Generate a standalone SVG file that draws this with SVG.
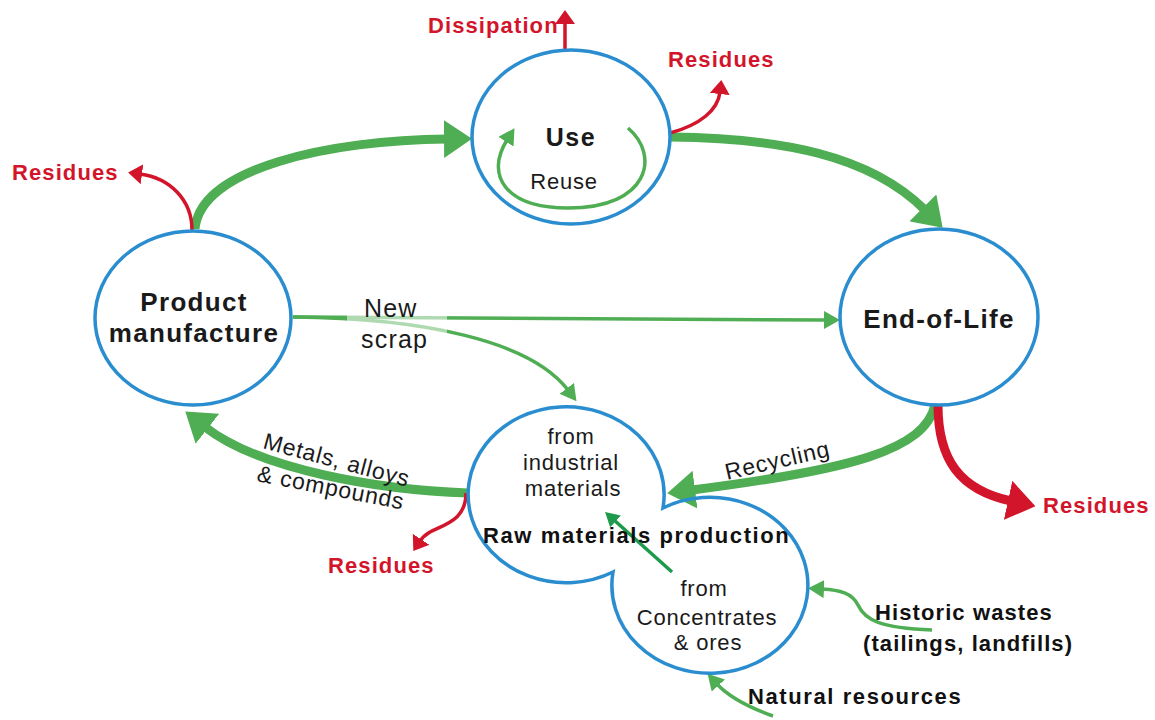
<svg xmlns="http://www.w3.org/2000/svg" width="1155" height="720" viewBox="0 0 1155 720">
<style>
text{font-family:"Liberation Sans",Arial,Helvetica,sans-serif;}
.node{fill:none;stroke:#2a8dcf;stroke-width:3.5;}
.title{font-size:26px;font-weight:bold;fill:#1a1a1a;letter-spacing:1.3px;text-anchor:middle;}
.txt{font-size:22px;fill:#1a1a1a;letter-spacing:0.8px;}
.mid{text-anchor:middle;}
.bold{font-size:22px;font-weight:bold;fill:#111;letter-spacing:1.1px;}
.red{font-size:22px;font-weight:bold;fill:#d2152b;letter-spacing:1.1px;}
.gthick{fill:none;stroke:#4fae53;stroke-width:9;marker-end:url(#mGThick);}
.gthin{fill:none;stroke:#4fae53;stroke-width:3.5;marker-end:url(#mGThin);}
.rthin{fill:none;stroke:#d2152b;stroke-width:3.5;marker-end:url(#mRThin);}
.rthick{fill:none;stroke:#d2152b;stroke-width:9;marker-end:url(#mRThick);}
</style>
<defs>
<marker id="mGThick" markerUnits="userSpaceOnUse" viewBox="0 0 28 38" markerWidth="28" markerHeight="38" refX="3" refY="19" orient="auto"><path d="M0,0 L28,19 L0,38 z" fill="#4fae53"/></marker>
<marker id="mGThin" markerUnits="userSpaceOnUse" viewBox="0 0 16 18" markerWidth="16" markerHeight="18" refX="2" refY="9" orient="auto"><path d="M0,0 L16,9 L0,18 z" fill="#4fae53"/></marker>
<marker id="mDGThin" markerUnits="userSpaceOnUse" viewBox="0 0 14 16" markerWidth="14" markerHeight="16" refX="2" refY="8" orient="auto"><path d="M0,0 L14,8 L0,16 z" fill="#1e9a4c"/></marker>
<marker id="mRThin" markerUnits="userSpaceOnUse" viewBox="0 0 14 20" markerWidth="14" markerHeight="20" refX="2" refY="10" orient="auto"><path d="M0,0 L14,10 L0,20 z" fill="#d2152b"/></marker>
<marker id="mRThick" markerUnits="userSpaceOnUse" viewBox="0 0 28 40" markerWidth="28" markerHeight="40" refX="3" refY="20" orient="auto"><path d="M0,0 L28,20 L0,40 z" fill="#d2152b"/></marker>
</defs>
<rect width="1155" height="720" fill="#fff"/>

<g id="connectors">
  <path class="gthick" d="M195,229 C200,168 330,140 447,139"/>
  <path class="gthick" d="M670,137 C780,138 870,155 925,210"/>
  <path class="gthin" d="M293,317 L826,320"/>
  <path class="gthin" d="M293,317 C420,318 530,340 568,390"/>
  <path class="gthick" d="M468,493 C380,490 260,470 205,427"/>
  <path class="gthick" d="M935,405 C925,450 850,470 692,490"/>
  <path class="gthin" d="M628,128 C660,155 650,208 568,208 C505,208 485,175 507,140"/>
  <path fill="none" stroke="#1e9a4c" stroke-width="3.5" marker-end="url(#mDGThin)" d="M672,572 L614,520"/>
  <path class="gthin" d="M932,630 C880,628 865,620 858,605 C852,593 840,590 822,589"/>
  <path class="gthin" stroke-width="4" d="M773,716 C745,706 728,696 717,684"/>
  <path class="rthin" d="M565,51 L565,22"/>
  <path class="rthin" d="M670,133 C700,125 718,110 720,92"/>
  <path class="rthin" d="M192,230 C192,200 170,178 140,174"/>
  <path class="rthin" d="M466,493 C466,520 445,524 430,532 C425,535 422,538 420,541"/>
  <path class="rthick" d="M938,405 C938,460 960,490 1011,501"/>
</g>

<g id="use">
  <ellipse class="node" cx="571" cy="137" rx="99" ry="87"/>
  <text class="title" x="571" y="146" style="font-size:25px;letter-spacing:1.5px">Use</text>
  <text class="txt mid" x="564" y="189">Reuse</text>
</g>

<g id="product-manufacture">
  <ellipse class="node" cx="193" cy="318" rx="98" ry="87"/>
  <text class="title" x="194" y="311">Product</text>
  <text class="title" x="194" y="342">manufacture</text>
</g>

<g id="end-of-life">
  <ellipse class="node" cx="939" cy="317" rx="99" ry="88"/>
  <text class="title" x="939" y="328">End-of-Life</text>
</g>

<g id="raw-materials-production">
  <path class="node" d="M663,508 A98,88 0 1 0 613,572 A98,88 0 1 0 663,508 Z"/>
  <text class="txt mid" x="571" y="444">from</text>
  <text class="txt mid" x="571" y="470">industrial</text>
  <text class="txt mid" x="573" y="496">materials</text>
  <text class="bold" x="483" y="543" style="letter-spacing:1.6px">Raw materials production</text>
  <text class="txt mid" x="704" y="596">from</text>
  <text class="txt mid" x="707" y="625">Concentrates</text>
  <text class="txt mid" x="708" y="650">&amp; ores</text>
</g>

<g id="new-scrap-label">
  <rect x="347" y="304" width="100" height="38" fill="#fff" opacity="0.55"/>
  <text class="txt" x="364" y="317" style="font-size:25px;letter-spacing:1.2px">New</text>
  <text class="txt" x="361" y="348" style="font-size:25px;letter-spacing:1.2px">scrap</text>
</g>

<g id="flow-labels">
  <text class="txt" transform="translate(262,448) rotate(15)" style="font-size:23px">Metals, alloys</text>
  <text class="txt" transform="translate(256,481) rotate(11)" style="font-size:23px">&amp; compounds</text>
  <text class="txt" transform="translate(727,480) rotate(-13)" style="font-size:23px">Recycling</text>
</g>

<g id="historic-wastes">
  <text class="bold" x="875" y="620">Historic wastes</text>
  <text class="bold" x="863" y="651">(tailings, landfills)</text>
</g>

<g id="natural-resources">
  <text class="bold" x="748" y="704" style="letter-spacing:1.6px">Natural resources</text>
</g>

<g id="residues">
  <text class="red" x="428" y="33">Dissipation</text>
  <text class="red" x="668" y="67">Residues</text>
  <text class="red" x="12" y="180">Residues</text>
  <text class="red" x="328" y="573">Residues</text>
  <text class="red" x="1043" y="513">Residues</text>
</g>
</svg>
